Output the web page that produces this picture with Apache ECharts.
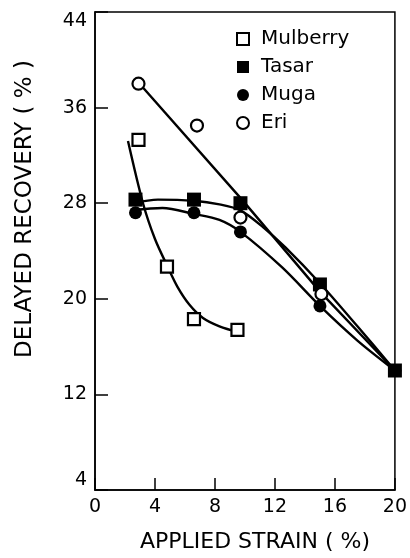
<!DOCTYPE html>
<html>
<head>
<meta charset="utf-8">
<script src="https://cdn.jsdelivr.net/npm/echarts@6/dist/echarts.min.js"></script>
<style>
html,body{margin:0;padding:0;background:#fff;}
#chart{width:410px;height:558px;}
</style>
</head>
<body>
<div id="chart"></div>
<script>
// Measured points
var mulberryX = [2.9, 4.8, 6.6, 9.5];
var mulberryY = [33.3, 22.7, 18.3, 17.4];
var tasarX = [2.7, 6.6, 9.7, 15, 20];
var tasarY = [28.3, 28.3, 28.0, 21.2, 14];
var mugaX = [2.7, 6.6, 9.7, 15, 20];
var mugaY = [27.2, 27.2, 25.6, 19.4, 14];
var eriX = [2.9, 6.8, 9.7, 15.1];
var eriY = [38.0, 34.5, 26.8, 20.4];

// Fitted curves
var mulberryFitX = [2.2, 3.2, 4.0, 4.8, 5.5, 6.3, 7.2, 8.3, 9.6];
var mulberryFitY = [33.2, 28.0, 25.0, 22.8, 21.0, 19.5, 18.4, 17.7, 17.2];
var tasarFitX = [2.5, 4.2, 6.6, 8.3, 9.7, 11.2, 12.7, 15, 17.5, 20];
var tasarFitY = [28.0, 28.3, 28.2, 27.9, 27.4, 26.0, 24.3, 21.3, 17.7, 14];
var mugaFitX = [2.5, 4.5, 6.6, 8.3, 9.7, 12.5, 15, 17.5, 20];
var mugaFitY = [27.4, 27.6, 27.1, 26.6, 25.6, 22.6, 19.4, 16.5, 14];
var eriFitX = [2.9, 9.8, 15, 20];
var eriFitY = [38.1, 28.3, 20.6, 14];

var xTicks = [0, 4, 8, 12, 16, 20];
var yTicks = [4, 12, 20, 28, 36, 44];

function pairs(xs, ys){ return xs.map(function(x,i){ return [x, ys[i]]; }); }

var FONT = 'DejaVu Sans';
var chart = echarts.init(document.getElementById('chart'), null, {renderer:'canvas'});

function fit(name, xs, ys, smooth){
  return {
    name: name, type: 'line', data: pairs(xs, ys), smooth: smooth,
    showSymbol: false, symbol: 'none', silent: true, z: 1,
    lineStyle: {color: '#000', width: 2.4}
  };
}

var option = {
  backgroundColor: '#fff',
  animation: false,
  grid: {left: 95, right: 13, top: 12, bottom: 67, show: true, borderColor: '#000', borderWidth: 1.5, backgroundColor: 'transparent'},
  legend: {
    data: [
      {name: 'Mulberry', icon: 'rect', itemStyle: {color: '#fff', borderColor: '#000', borderWidth: 2}},
      {name: 'Tasar', icon: 'rect', itemStyle: {color: '#000', borderWidth: 0}},
      {name: 'Muga', icon: 'circle', itemStyle: {color: '#000', borderWidth: 0}},
      {name: 'Eri', icon: 'circle', itemStyle: {color: '#fff', borderColor: '#000', borderWidth: 2}}
    ],
    orient: 'vertical', left: 231, top: 24, itemGap: 8,
    itemWidth: 12, itemHeight: 12,
    textStyle: {fontFamily: FONT, fontSize: 20, color: '#000', padding: [0, 0, 0, 7]},
    selectedMode: false
  },
  xAxis: {
    type: 'value', min: 0, max: 20, interval: 4,
    name: 'APPLIED STRAIN ( %)', nameLocation: 'middle', nameGap: 41,
    nameTextStyle: {fontFamily: FONT, fontSize: 22, color: '#000', padding: [0, 0, 0, 20]},
    axisLine: {show: true, onZero: false, lineStyle: {color: '#000', width: 1.5}},
    axisTick: {show: true, inside: true, length: 12, lineStyle: {color: '#000', width: 1.5}},
    axisLabel: {fontFamily: FONT, fontSize: 19, color: '#000', margin: 8},
    splitLine: {show: false}
  },
  yAxis: {
    type: 'value', min: 4, max: 44, interval: 8,
    name: 'DELAYED RECOVERY ( % )', nameLocation: 'middle', nameGap: 58, nameRotate: 90,
    nameTextStyle: {fontFamily: FONT, fontSize: 23, color: '#000', padding: [0, 0, 0, 84]},
    axisLine: {show: true, onZero: false, lineStyle: {color: '#000', width: 1.5}},
    axisTick: {show: true, inside: true, length: 13, lineStyle: {color: '#000', width: 1.5}},
    axisLabel: {fontFamily: FONT, fontSize: 19, color: '#000', margin: 8,
      verticalAlignMinLabel: 'bottom', verticalAlignMaxLabel: 'top'},
    splitLine: {show: false}
  },
  series: [
    fit('Mulberry fit', mulberryFitX, mulberryFitY, 0.3),
    fit('Tasar fit', tasarFitX, tasarFitY, 0.3),
    fit('Muga fit', mugaFitX, mugaFitY, 0.3),
    fit('Eri fit', eriFitX, eriFitY, false),
    {name: 'Mulberry', type: 'scatter', data: pairs(mulberryX, mulberryY), symbol: 'rect', symbolSize: 12, z: 3,
      itemStyle: {color: '#fff', borderColor: '#000', borderWidth: 2.2, opacity: 1}},
    {name: 'Muga', type: 'scatter', data: pairs(mugaX, mugaY), symbol: 'circle', symbolSize: 13, z: 3,
      itemStyle: {color: '#000', borderColor: '#000', borderWidth: 0, opacity: 1}},
    {name: 'Tasar', type: 'scatter', data: pairs(tasarX, tasarY), symbol: 'rect', symbolSize: 14, z: 4,
      itemStyle: {color: '#000', borderColor: '#000', borderWidth: 0, opacity: 1}},
    {name: 'Eri', type: 'scatter', data: pairs(eriX, eriY), symbol: 'circle', symbolSize: 12, z: 5,
      itemStyle: {color: '#fff', borderColor: '#000', borderWidth: 2.2, opacity: 1}}
  ]
};
chart.setOption(option);
</script>
</body>
</html>
